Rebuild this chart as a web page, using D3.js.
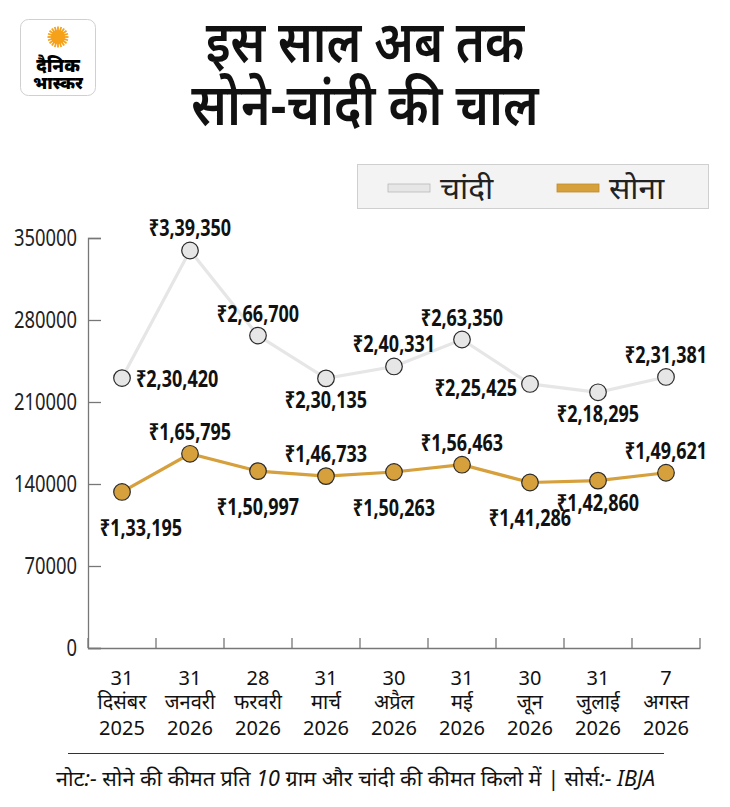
<!DOCTYPE html>
<html>
<head>
<meta charset="utf-8">
<title>सोने-चांदी की चाल</title>
<script src="https://d3js.org/d3.v7.min.js"></script>
<style>
  html, body { margin: 0; padding: 0; background: #fff; }
  text { font-family: 'Noto Sans', Roboto, sans-serif; }
</style>
</head>
<body>
<div id="chart"></div>
<script>
// data
var dates  = ["31", "31", "28", "31", "30", "31", "30", "31", "7"];
var months = ["दिसंबर", "जनवरी", "फरवरी", "मार्च", "अप्रैल", "मई", "जून", "जुलाई", "अगस्त"];
var years  = ["2025", "2026", "2026", "2026", "2026", "2026", "2026", "2026", "2026"];
var silver = [230420, 339350, 266700, 230135, 240331, 263350, 225425, 218295, 231381];
var gold   = [133195, 165795, 150997, 146733, 150263, 156463, 141286, 142860, 149621];
var yTicks = [0, 70000, 140000, 210000, 280000, 350000];

// where each value label sits relative to its point
var silverPlace = ["right", "above", "above", "below", "above", "above", "left", "below", "above"];
var goldPlace   = ["low", "above", "low", "above", "low", "above", "low", "below", "above"];

var W = 730, H = 807;
var silverColor = "#e6e6e6", goldColor = "#d6a03c";

var svg = d3.select("#chart").append("svg")
  .attr("width", W)
  .attr("height", H);

svg.append("rect").attr("width", W).attr("height", H).attr("fill", "#fff");

// squeezed text helper (no condensed font installed)
function squeezed(g, tx, ty, sx, str){
  return g.append("text")
    .attr("transform", "translate(" + tx + "," + ty + ") scale(" + sx + ",1)")
    .text(str);
}

// logo
var logo = svg.append("g").attr("transform", "translate(20,19)");
logo.append("rect")
  .attr("x", 0.5).attr("y", 0.5)
  .attr("width", 75).attr("height", 76)
  .attr("rx", 8)
  .attr("fill", "#fff")
  .attr("stroke", "#d0d0d0");
logo.selectAll("line.ray").data(d3.range(20)).enter().append("line")
  .attr("class", "ray")
  .attr("x1", function(d){ return 38 + Math.cos(d / 20 * 2 * Math.PI) * 6; })
  .attr("y1", function(d){ return 18 + Math.sin(d / 20 * 2 * Math.PI) * 6; })
  .attr("x2", function(d){ return 38 + Math.cos(d / 20 * 2 * Math.PI) * 10.5; })
  .attr("y2", function(d){ return 18 + Math.sin(d / 20 * 2 * Math.PI) * 10.5; })
  .attr("stroke", "#f6a11a")
  .attr("stroke-width", 1.8);
logo.append("circle").attr("cx", 38).attr("cy", 18).attr("r", 7).attr("fill", "#f6a11a");
squeezed(logo, 38, 53, 0.95, "दैनिक")
  .attr("text-anchor", "middle")
  .attr("font-size", 19).attr("font-weight", 900);
squeezed(logo, 38, 70, 0.95, "भास्कर")
  .attr("text-anchor", "middle")
  .attr("font-size", 18).attr("font-weight", 900);

// title
var title = svg.append("g")
  .attr("text-anchor", "middle")
  .attr("font-size", 58)
  .attr("font-weight", 600)
  .attr("fill", "#111");
squeezed(title, 365, 62, 0.84, "इस साल अब तक");
squeezed(title, 365, 125, 0.86, "सोने-चांदी की चाल");

// legend
var legend = svg.append("g");
legend.append("rect")
  .attr("x", 357.5).attr("y", 164.5)
  .attr("width", 351).attr("height", 44)
  .attr("fill", "#f3f3f3")
  .attr("stroke", "#cfcfcf");
var legItems = [
  { name: "चांदी", color: silverColor, edge: "#b8b8b8", x: 388 },
  { name: "सोना", color: goldColor, edge: "#c08a2a", x: 557 }
];
legItems.forEach(function(it){
  legend.append("rect")
    .attr("x", it.x).attr("y", 184)
    .attr("width", 42).attr("height", 8)
    .attr("fill", it.color)
    .attr("stroke", it.edge)
    .attr("stroke-width", 0.8);
  squeezed(legend, it.x + 52, 199, 1.02, it.name)
    .attr("font-size", 31)
    .attr("fill", "#222");
});

// scales
var x = d3.scaleBand()
  .domain(d3.range(dates.length))
  .range([88, 700]);

var y = d3.scaleLinear()
  .domain([0, 350000])
  .range([648, 238]);

function cx(i){ return x(i) + x.bandwidth() / 2; }

// y axis
var yAxis = svg.append("g")
  .attr("transform", "translate(88,0)")
  .call(d3.axisRight(y).tickValues(yTicks).tickSize(13).tickFormat(""));
yAxis.select(".domain").attr("stroke", "#777").attr("stroke-width", 1.3);
yAxis.selectAll(".tick line").attr("stroke", "#777").attr("stroke-width", 1.3);

var yLab = svg.append("g")
  .attr("text-anchor", "end")
  .attr("font-size", 23)
  .attr("fill", "#222");
yTicks.forEach(function(d){
  squeezed(yLab, 77, y(d) + 8, 0.8, d);
});

// x axis
var xAxis = svg.append("g")
  .attr("transform", "translate(0,648)")
  .call(d3.axisTop(x).tickSize(0).tickFormat(""));
xAxis.select(".domain").attr("stroke", "#777").attr("stroke-width", 1.3);
svg.append("g").selectAll("line").data(d3.range(dates.length + 1)).enter().append("line")
  .attr("x1", function(i){ return i < dates.length ? x(i) : x.range()[1]; })
  .attr("x2", function(i){ return i < dates.length ? x(i) : x.range()[1]; })
  .attr("y1", 648).attr("y2", 638)
  .attr("stroke", "#777").attr("stroke-width", 1.3);

var xLab = svg.append("g").selectAll("text").data(dates).enter().append("text")
  .attr("text-anchor", "middle")
  .attr("font-size", 20)
  .attr("fill", "#111");
xLab.append("tspan").attr("x", function(d, i){ return cx(i); }).attr("y", 685).text(function(d){ return d; });
xLab.append("tspan").attr("x", function(d, i){ return cx(i); }).attr("y", 709).text(function(d, i){ return months[i]; });
xLab.append("tspan").attr("x", function(d, i){ return cx(i); }).attr("y", 735).text(function(d, i){ return years[i]; });

// indian number format
function inr(v){
  var s = String(v);
  var last3 = s.slice(-3), rest = s.slice(0, -3);
  if (rest.length) last3 = "," + last3;
  rest = rest.replace(/\B(?=(\d{2})+(?!\d))/g, ",");
  return "₹" + rest + last3;
}

var line = d3.line()
  .x(function(d, i){ return cx(i); })
  .y(function(d){ return y(d); });

var labW = 80;   // approx width of a value label after squeezing

function drawSeries(values, color, place){
  svg.append("path")
    .datum(values)
    .attr("fill", "none")
    .attr("stroke", color)
    .attr("stroke-width", 3.2)
    .attr("d", line);

  svg.append("g").selectAll("circle").data(values).enter().append("circle")
    .attr("cx", function(d, i){ return cx(i); })
    .attr("cy", function(d){ return y(d); })
    .attr("r", 8.3)
    .attr("fill", color)
    .attr("stroke", "#2a2a2a")
    .attr("stroke-width", 1.2);

  var g = svg.append("g")
    .attr("font-size", 24)
    .attr("font-weight", 700)
    .attr("fill", "#111");

  values.forEach(function(d, i){
    var p = place[i], px = cx(i), py = y(d), anchor = "middle";
    if (p == "right") { px += 14; py += 9; anchor = "start"; }
    else if (p == "left") { px -= 13; py += 12; anchor = "end"; }
    else {
      if (p == "above") py -= 14;
      if (p == "below") py += 30;
      if (p == "low") py += 44;
      px = Math.max(px, 101 + labW / 2);
    }
    squeezed(g, px, py, 0.75, inr(d)).attr("text-anchor", anchor);
  });
}

drawSeries(silver, silverColor, silverPlace);
drawSeries(gold, goldColor, goldPlace);

// footer
svg.append("line")
  .attr("x1", 68).attr("x2", 664)
  .attr("y1", 753.5).attr("y2", 753.5)
  .attr("stroke", "#333").attr("stroke-width", 1);
svg.append("text")
  .attr("x", 56).attr("y", 786)
  .attr("font-size", 21)
  .attr("font-style", "italic")
  .attr("fill", "#111")
  .attr("textLength", 599)
  .attr("lengthAdjust", "spacingAndGlyphs")
  .text("नोट:- सोने की कीमत प्रति 10 ग्राम और चांदी की कीमत किलो में | सोर्स:- IBJA");
</script>
</body>
</html>
